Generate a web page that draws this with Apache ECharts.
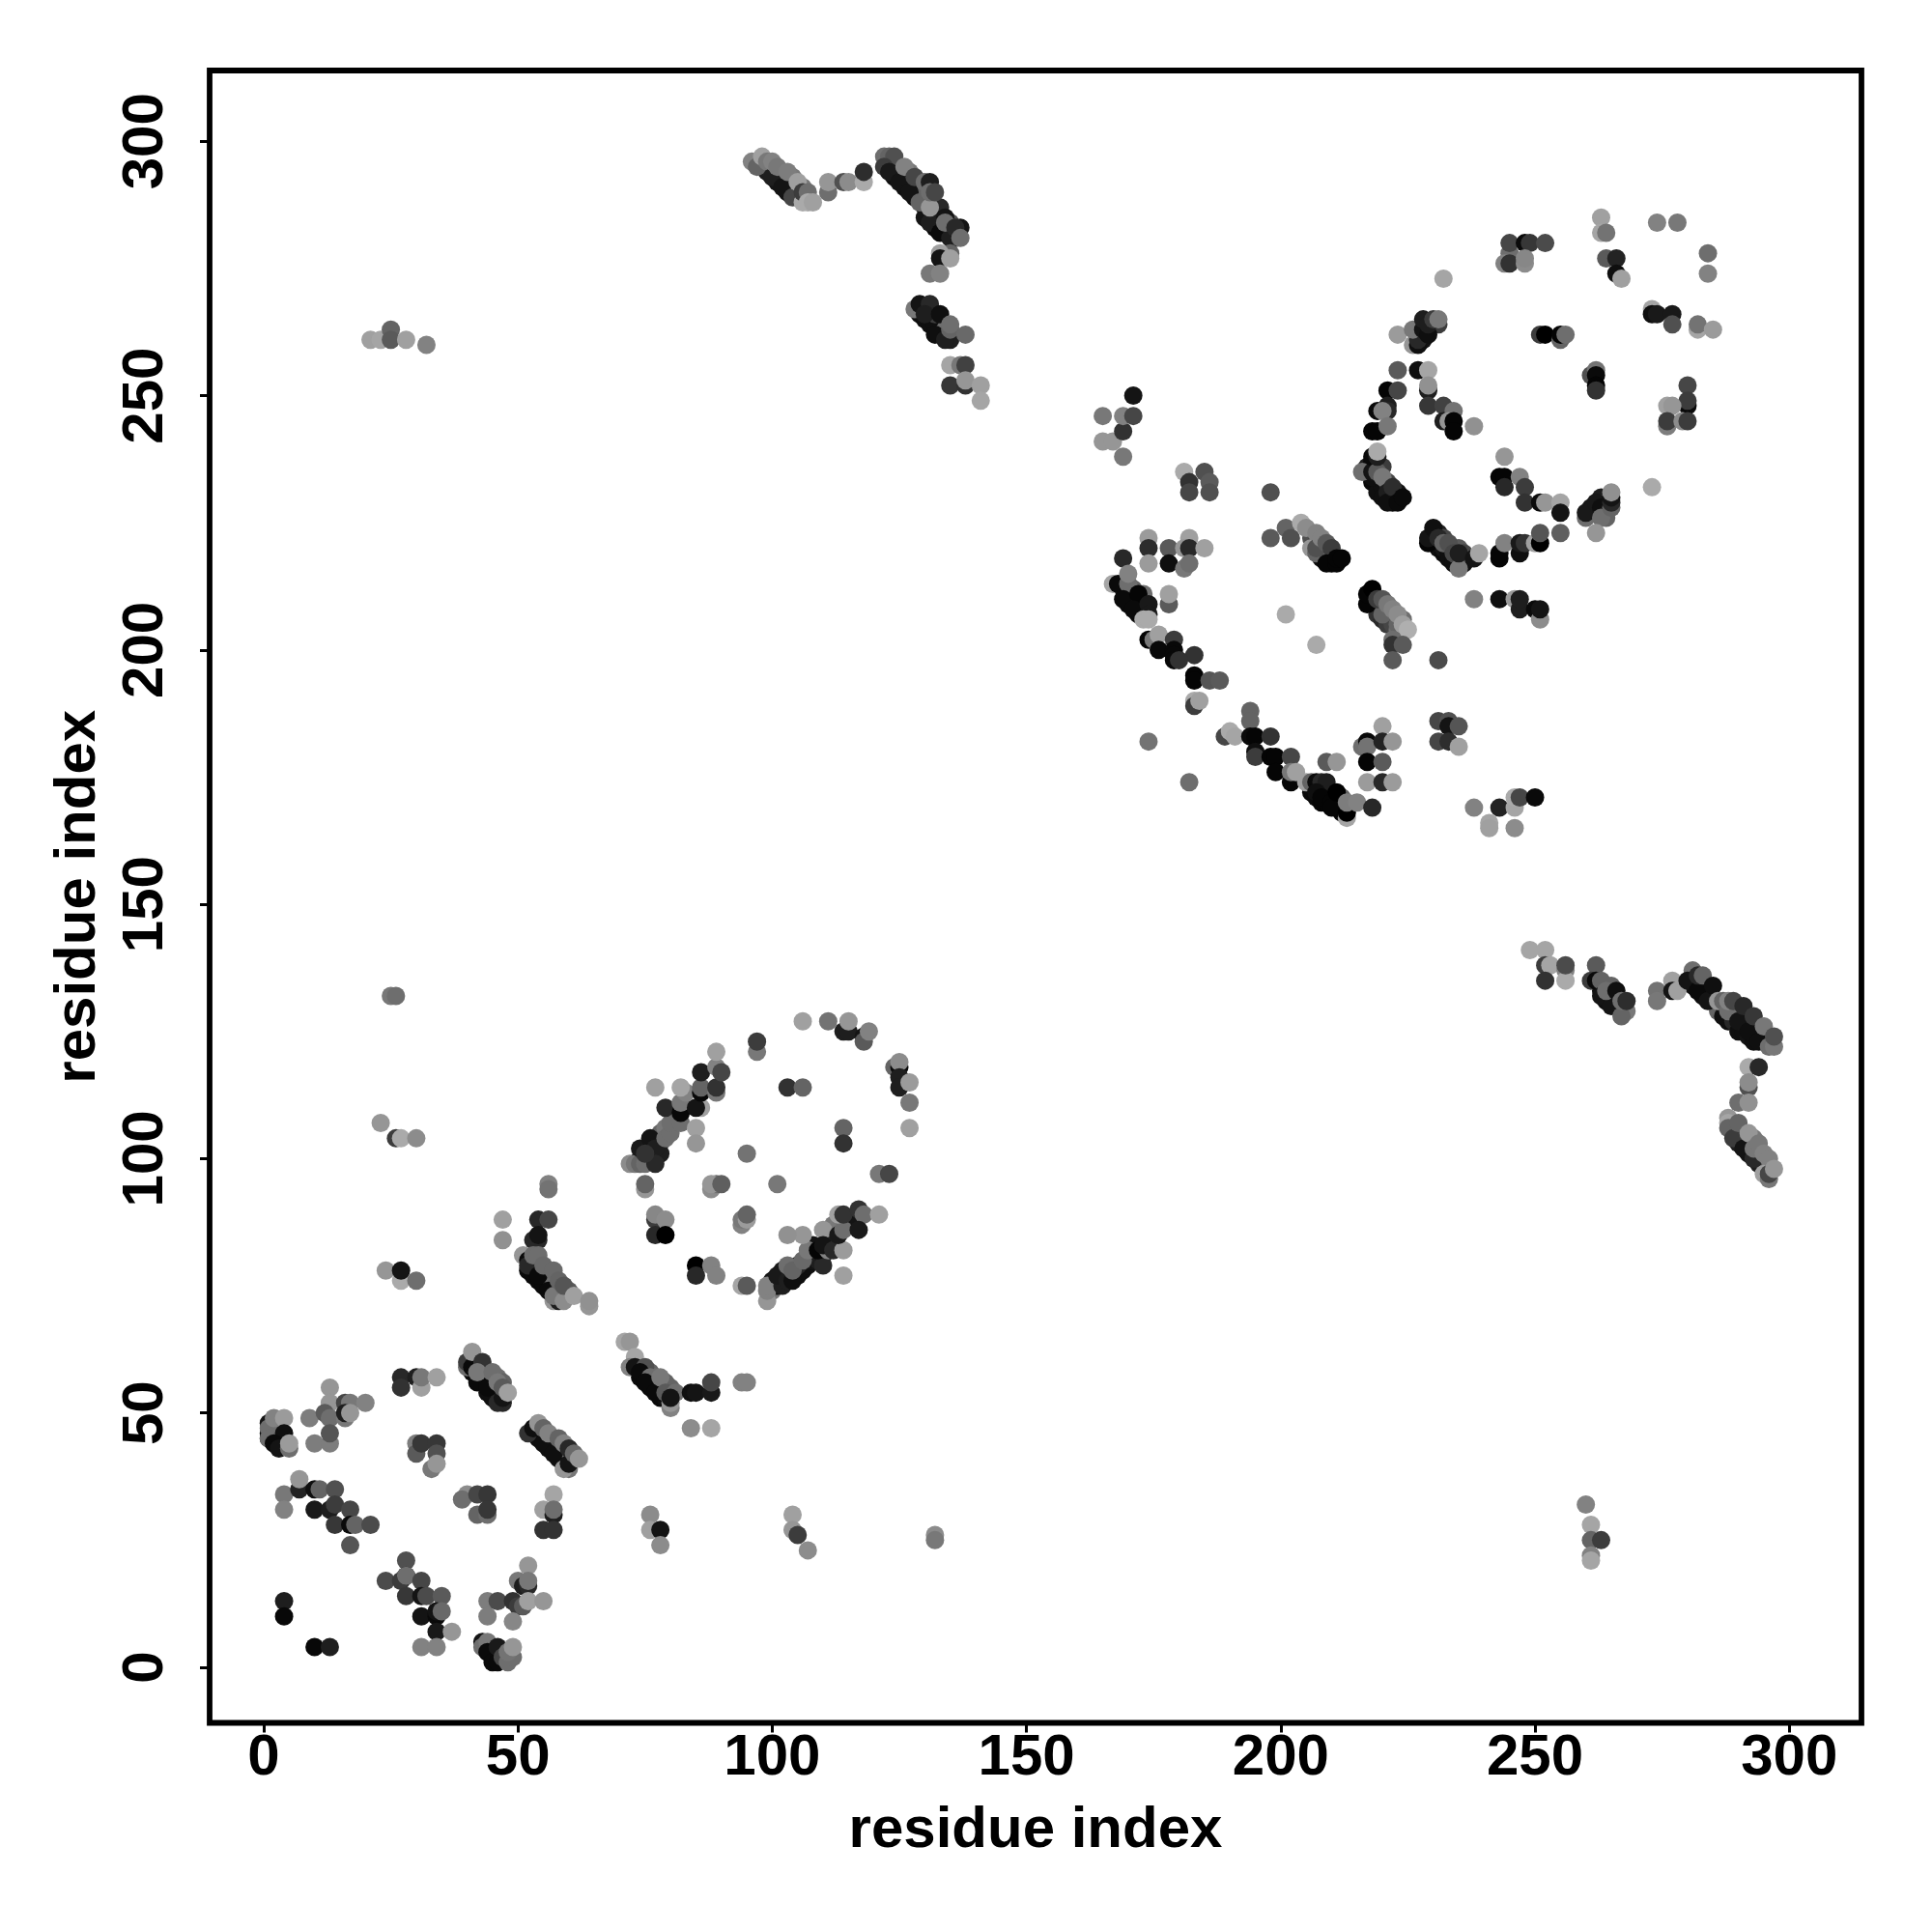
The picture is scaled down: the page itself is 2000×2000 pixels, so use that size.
<!DOCTYPE html>
<html><head><meta charset="utf-8">
<script src="https://cdn.jsdelivr.net/npm/echarts@6/dist/echarts.min.js"></script>
<style>html,body{margin:0;background:#fff}#c{width:2000px;height:2000px}</style></head>
<body><div id="c"></div>
<script>
// each entry: [residue x, residue y, grey level]
const tickValues=[0,50,100,150,200,250,300];
const blockStrands=[
[41,58,10],[42,57,10],[43,56,10],[44,54,15],[45,53,15],[46,53,15],[47,52,40],[43,59,50],[44,58,60],[44,57,110],[46,57,110],[47,56,100],
[54,45,15],[55,45,15],[56,43,15],[57,43,15],[58,41,15],[59,41,20],[60,39,120],[56,45,110],[57,45,120],[58,44,110],[59,43,110],
[52,78,10],[53,77,10],[54,76,10],[55,75,10],[56,75,10],[57,72,150],[58,72,30],[59,73,30],[53,80,40],[54,79,110],[56,78,110],[56,77,110],[58,75,100],[60,74,90],
[74,100,25],[75,102,25],[76,100,30],[76,102,20],[77,103,15],[78,103,100],[78,105,100],[78,101,30],[79,106,120],
[100,74,120],[100,76,20],[101,75,15],[102,78,25],[103,78,25],[105,77,15],[106,78,15],[107,79,15],[108,80,20],[108,83,20],[109,80,30],[110,81,20],[111,84,40],[112,85,40],[112,87,120],[115,87,25],[116,88,20],
[74,57,10],[75,57,10],[76,55,10],[77,55,10],[78,53,10],[79,53,15],[80,51,130],[76,58,100],[77,57,110],[78,56,110],[79,56,100],[80,55,100],
[99,294,30],[100,294,60],[101,292,20],[102,293,80],[103,290,20],[104,291,80],[105,289,40],[103,292,110],[104,293,120],[106,291,120],
[123,295,10],[124,293,15],[125,293,60],[126,291,15],[127,291,60],[128,289,15],[129,290,60],[130,287,20],[130,285,20],[132,286,60],[132,283,10],[133,284,15],[134,282,15],[136,281,15],[124,295,90],[127,294,120],[129,292,100],[130,290,100],[131,289,100],[133,287,40],[135,284,80],[137,283,20],
[129,266,15],[130,265,15],[131,265,60],[131,264,15],[132,264,15],[133,263,15],[133,262,25],[131,267,60],[132,266,60],[134,263,110],
[263,133,15],[264,131,15],[264,132,20],[265,132,15],[266,130,15],[267,130,15],[265,134,100],[266,131,90],
[281,134,15],[282,134,60],[283,132,15],[284,133,80],[286,129,100],[287,130,100],[287,128,15],[288,127,15],[289,127,40],[290,125,15],[291,125,15],[292,124,20],[293,123,15],[294,125,120],[295,123,60],[296,124,120],[289,130,100],[291,128,100],[293,126,100],
[289,105,60],[290,104,60],[290,103,30],[291,103,30],[292,101,20],[292,103,70],[293,104,120],[294,100,30],[294,99,30],[295,99,40],[296,98,90],
[169,212,10],[170,211,10],[170,209,10],[171,210,10],[172,209,10],[172,207,10],[173,208,15],[171,212,100],[173,211,110],[172,210,110],
[206,222,80],[207,221,60],[208,220,90],[208,218,10],[209,219,10],[210,218,10],[210,217,5],[206,220,150],[207,219,100],
[206,172,10],[207,171,10],[208,170,5],[209,172,40],[209,170,5],[210,171,70],[211,169,5],[212,168,5],[212,171,100],[213,169,110],[212,169,5],
[218,210,5],[218,209,5],[219,208,5],[219,207,50],[220,206,40],[221,207,70],[221,205,60],[222,206,90],[222,205,70],[223,204,110],[223,205,100],[224,206,110],
[218,233,10],[219,233,10],[219,231,15],[220,232,15],[220,230,15],[221,233,70],[222,231,40],[222,229,10],[223,231,20],[217,236,30],[218,237,10],[218,234,15],[220,236,60],
[230,221,5],[230,222,20],[231,220,15],[232,219,10],[232,220,20],[233,219,15],[233,218,15],[234,218,15],[234,217,15],[235,218,15],[236,218,40],[236,217,15],[237,218,20],[231,223,30],[232,222,70],[234,220,80],[235,220,90],[236,219,70],
[227,262,25],[228,261,20],[229,263,20],[230,264,30],[231,264,60],
[261,228,25],[262,227,20],[263,230,30],[264,228,20],[264,229,60],[264,227,15],[264,226,100]
];
const blockLowerLeft=[
[4,13,30],[4,10,8],[10,4,8],[13,4,30],
[28,21,80],[24,17,75],[27,17,60],[28,18,10],[28,18,110],[31,17,70],[28,14,55],[31,14,20],[32,14,75],[35,14,90],[31,10,20],[34,10,10],[34,11,20],[35,11,105],[34,7,25],[37,7,150],[31,4,130],[34,4,130],
[52,20,150],[50,17,120],[51,16,30],[52,16,40],[52,17,120],[44,13,125],[46,13,75],[49,13,50],[50,12,60],[51,12,90],[52,13,160],[55,13,150],[44,10,125],[49,9,135],
[43,5,20],[43,4,110],[44,5,120],[44,3,10],[45,1,10],[46,1,10],[46,4,25],[47,2,70],[48,1,110],[49,2,110],[48,3,115],[49,4,150],
[4,34,120],[4,31,130],[7,35,35],[7,37,150],[10,35,15],[11,35,100],[14,35,80],[10,31,25],[13,31,30],[14,32,60],[14,28,55],[17,31,70],[17,28,10],[18,28,100],[21,28,75],[17,24,85],
[1,48,20],[1,46,15],[1,45,10],[1,47,110],[2,49,130],[1,45,110],[4,49,155],[4,46,15],[2,44,10],[3,43,20],[5,43,110],[5,44,155],
[9,49,125],[13,55,150],[13,52,150],[12,50,90],[13,49,110],[16,52,70],[17,52,120],[20,52,130],[16,49,120],[16,50,30],[17,50,150],[10,44,125],[13,44,125],[13,46,85],
[27,57,40],[27,55,50],[30,57,30],[31,55,160],[31,57,120],[34,57,160],
[30,44,125],[30,42,90],[31,44,55],[34,44,55],[34,42,80],[33,39,120],[34,40,150],
[40,34,140],[39,33,110],[42,34,70],[44,34,55],[42,30,100],[44,30,110],[44,31,55],
[57,34,165],[55,31,160],[57,30,30],[57,31,110],[55,27,50],[57,27,50]
];
const blockChain40to62=[
[40,59,110],[40,60,60],[41,59,10],[41,62,150],[42,56,10],[43,60,50],[44,55,10],[46,52,40],[47,53,20],[42,58,120],[45,58,110],[46,56,120],[47,55,90],[48,54,160],
[52,46,50],[53,47,15],[55,44,15],[57,42,15],[59,39,150],[60,40,20],[54,48,150],[55,47,100],[56,46,130],[58,45,100],[59,44,130],[60,43,40],[61,42,105],[62,41,150]
];
const blockChain53to64=[
[47,88,160],[47,84,145],[56,95,130],[56,94,115],[54,88,40],[56,88,70],[54,84,40],[53,84,40],[54,85,20],
[51,81,150],[52,80,10],[52,79,40],[54,77,10],[56,74,10],[57,73,120],[59,72,140],[53,81,110],[54,81,110],[55,79,105],[57,78,105],[58,76,100],[59,75,85],[61,73,160],[64,71,150],[64,72,145]
];
const blockEllipse=[
[72,99,140],[73,99,120],[74,99,100],[75,99,110],[74,102,25],[76,104,20],[77,102,30],[77,99,40],[75,101,50],[79,104,110],[80,105,110],[80,107,110],[79,110,40],[82,107,110],[82,109,8],[82,111,120],[83,113,130],[82,114,165],[77,114,160],
[85,106,160],[85,103,150],[86,110,160],[85,110,20],[86,113,8],[86,114,100],[86,117,30],[89,113,120],[89,114,50],[89,118,130],[90,117,70],[89,121,160],
[97,121,120],[97,123,60],[106,127,160],[111,127,115],[114,125,30],[115,125,30],[115,127,150],[118,124,20],[118,123,90],[119,125,130],
[103,114,50],[106,114,100],[124,118,100],[125,118,10],[125,119,140],[125,116,30],[125,114,30],[127,115,155],[127,111,120],[127,106,160],
[114,106,100],[114,103,50],[95,101,115],[101,95,120],[75,94,150],[75,95,100],[88,94,140],[89,95,110],[88,95,150],[90,95,95],
[121,97,120],[123,97,70],
[77,88,60],[77,89,135],[79,88,140],[77,85,40],[79,85,0],
[94,87,130],[94,88,120],[95,88,155],[95,89,100],
[85,79,0],[88,79,130],[85,77,40],[89,77,130],[94,75,165],[95,75,90],
[99,72,150],[99,74,130],[99,75,130],[102,75,30],[101,77,25],[103,76,30],[104,76,15],[105,79,40],[103,79,110],[104,78,100],[106,80,105],[107,82,120],[106,85,150],[103,85,145],[110,79,40],[109,82,5],[111,82,130],[110,86,150],[110,83,20],[112,82,40],[114,82,155],
[113,85,25],[114,86,110],[113,89,160],[114,89,50],[117,90,50],[118,89,110],[117,86,25],[121,89,160],[114,77,160]
];
const blockChain71to95=[
[71,64,165],[72,64,150],[73,61,165],[72,59,130],[73,59,20],[75,59,80],[74,58,10],[76,57,110],[75,56,10],[77,54,10],[78,57,120],[79,54,90],[80,52,150],[81,54,110],[80,53,20],[84,54,15],[85,54,20],[88,54,25],[88,56,70],[94,56,130],[95,56,130],[84,47,140],[88,47,165]
];
const blockMiddle=[
[76,30,140],[76,27,160],[78,27,20],[78,24,140],[104,30,160],[104,27,150],[105,26,60],[107,23,140],[132,26,140],[132,25,120],
[260,32,130],[261,28,165],[261,25,100],[263,25,60],[261,22,130],[261,21,165],
[21,261,160],[23,261,165],[25,263,100],[25,261,90],[28,261,160],[32,260,130],
[25,132,120],[26,132,110],[23,107,150],[26,104,60],[27,104,170],[30,104,140],[24,78,150],[27,76,170],[27,78,20],[30,76,110]
];
const blockTopChains=[
[96,296,130],[97,295,100],[98,297,160],[99,296,120],[100,293,30],[100,296,130],[101,295,120],[102,291,20],[103,294,125],[104,289,70],[105,292,160],[106,288,170],[106,290,60],[107,290,110],[107,288,170],[108,288,160],[111,290,110],[111,292,150],[114,292,80],[115,292,140],[118,292,170],[118,294,45],
[122,297,110],[123,297,100],[124,297,80],[122,295,60],[123,294,25],[125,292,20],[127,290,20],[129,288,100],[131,284,30],[131,287,150],[133,282,10],[135,281,30],
[126,295,130],[128,293,70],[130,292,110],[131,292,30],[131,290,110],[132,290,70],[134,285,20],[134,284,110],[136,283,40],[137,281,110],
[135,278,100],[133,278,160],[133,277,20],[135,277,160],[131,274,120],[133,274,130],
[128,267,120],[129,268,20],[131,268,40],[130,266,30],[133,266,15],[132,262,15],[135,261,30],[134,261,30],[135,263,100],[135,264,110],[138,262,105],
[135,256,165],[137,256,120],[138,256,65],[135,252,55],[138,252,50],[138,253,150],[141,252,160],[141,249,165]
];
const blockRightChains=[
[249,141,165],[252,141,165],[252,138,60],[253,138,165],[256,137,130],[256,135,170],[256,138,75],[252,135,50],
[262,138,90],[261,135,60],[262,135,10],[263,135,100],[263,132,20],[265,130,20],[264,133,110],[266,133,15],[268,129,120],[267,128,100],[267,131,110],[268,131,45],
[274,133,115],[274,131,120],[277,135,160],[277,133,20],[278,133,160],[281,137,110],[280,135,20],[282,133,10],[282,136,40],[283,136,100],[284,131,20],[285,134,15],[286,131,150],[287,131,100],[288,129,110],[288,131,130],[289,131,70],[290,127,20],[291,130,40],[292,125,15],[293,128,55],[294,123,15],[295,126,120],[296,122,110],[297,122,120],[297,124,80],
[292,118,170],[294,118,40],[292,114,80],[292,115,140],[290,111,110],[292,111,145],
[288,108,150],[288,107,165],[288,106,100],[289,104,60],[290,107,100],[291,102,20],[292,105,150],[293,100,40],[293,102,120],[294,103,120],[295,101,130],[296,100,130],[295,97,160],[296,96,120],[296,97,70],[297,98,150]
];
const blockUpperDomain1=[
[165,246,120],[165,241,150],[167,241,150],[169,238,120],[169,243,50],[169,246,130],[171,246,70],[171,250,20],
[181,235,170],[185,235,80],[182,233,50],[186,233,90],[182,231,70],[186,231,80],[198,231,80],
[201,224,100],[198,222,90],[202,222,80],[204,225,170],[205,224,140],[207,223,130],[207,220,80],[208,222,130],[209,221,90],[210,220,60],[209,217,5],[211,217,5],[211,218,5],[212,218,5],
[174,222,155],[174,220,45],[174,217,155],[178,220,90],[178,217,15],[182,222,160],[181,220,150],[182,220,40],[185,220,160],[181,216,120],[182,217,110],[169,218,40],
[167,213,165],[168,213,10],[170,213,110],[170,215,130],[169,210,10],[172,211,5],[171,208,10],[174,209,25],[174,207,25],[173,206,170],[174,206,170],[178,209,90],[178,211,160],
[174,202,5],[175,202,120],[176,203,160],[179,202,60],[176,200,8],[179,200,8],[179,199,8],[183,199,50],[179,198,8],[180,198,50],[183,195,5],[183,194,5],[186,194,85],[188,194,90],
[183,190,170],[183,189,60],[184,190,160],
[174,182,115],[182,174,110],
[189,183,70],[190,184,170],[191,183,165],
[194,188,100],[194,186,100],[194,183,10],[195,183,5],[198,183,50],[195,180,15],[195,179,60],[198,179,5],[199,179,5],[202,179,70],[199,176,5],[202,174,5],[202,176,120],[203,176,160],
[209,178,90],[211,178,150],
[205,174,160],[206,174,100],[207,174,10],[208,174,40],[209,174,30],[207,172,15],[208,171,5],[210,170,5],[210,169,5],[211,172,0],[213,167,165],[213,168,0],[213,170,125],[215,170,130],[218,169,40],
[216,181,110],[217,182,10],[217,181,115],[220,185,160],[220,182,35],[222,182,150],[217,178,5],[220,178,90],[217,174,155],[220,174,40],[222,174,155],
[231,186,70],[233,186,80],[233,185,20],[235,185,85],[231,182,70],[233,182,45],[235,181,160],[231,198,75],
[238,169,130],[243,169,35],[246,169,165],[246,171,170],[247,171,70],[250,171,10],[241,166,165],[241,165,160],[246,165,140],
[201,207,170],[207,201,170],
[217,209,5],[217,211,5],[218,212,0],[220,207,100],[219,210,60],[220,210,85],[221,209,120],[222,208,130],[223,207,140],[224,205,160],[225,204,175],[222,202,110],[222,201,50],[224,201,90],[222,198,90]
];
const blockUpperDomain2=[
[216,235,110],[218,235,20],[218,238,10],[219,235,90],[219,238,30],[219,239,170],[220,234,120],[221,231,30],[221,229,15],[222,232,45],[223,229,10],[224,230,10],
[229,221,5],[229,222,20],[230,224,15],[231,222,40],[232,221,100],[233,221,80],[234,219,70],[235,216,120],[235,219,30],[238,218,20],[239,219,165],
[243,218,5],[243,219,5],[244,221,130],[247,219,15],[247,221,25],[248,221,50],[250,221,160],[251,221,0],[251,223,85],[255,223,95],
[238,210,130],[243,210,15],[246,210,155],[247,208,30],[247,210,30],[250,208,10],[251,206,140],[251,208,20],
[223,262,155],[226,260,150],[227,260,15],[227,261,40],[226,263,120],[228,263,20],[228,265,30],[229,262,15],[229,264,30],[230,265,60],[231,265,120],
[232,273,165],[223,255,90],[227,255,15],[229,255,165],
[221,251,5],[223,251,70],[229,251,30],[229,252,145],[219,247,10],[221,248,30],[221,247,40],[220,247,130],[218,243,5],[219,243,5],[221,244,120],
[229,248,55],[232,248,65],[234,247,115],[232,245,30],[233,245,150],[234,245,5],[234,243,5],[238,244,145],
[244,238,150],[243,234,5],[244,234,5],[244,232,40],[247,234,130],[248,232,60],[248,229,50],[251,229,10],[252,229,150],[255,229,165],[255,227,20],
[260,226,110],[260,227,25],[262,229,25],[263,228,15],[263,226,110],[262,223,150],[265,228,100],[265,229,40],[265,230,20],[265,231,145],
[245,278,110],[245,280,70],[248,280,10],[249,280,55],[252,280,75],[244,276,130],[245,276,50],[248,276,140],[248,277,135],
[263,285,160],[263,282,165],[264,282,115],[264,277,90],[266,277,35],[266,274,15],[267,273,160],
[274,284,130],[278,284,120],[284,278,110],[284,274,130],
[273,267,165],[273,266,15],[274,266,25],[277,266,25],[277,264,80],[282,263,165],[282,264,115],[285,263,155],
[251,262,60],[252,262,0],[255,261,100],[255,262,5],[256,262,110],
[261,254,80],[262,255,115],[262,254,10],[262,252,5],[262,251,50],
[280,252,70],[280,248,10],[280,249,60],[276,248,160],[277,248,150],[276,244,125],[276,245,60],[279,245,140],[280,245,60],[273,232,170]
];
const allPoints=[blockStrands,blockLowerLeft,blockChain40to62,blockChain53to64,blockEllipse,blockChain71to95,blockMiddle,blockTopChains,blockRightChains,blockUpperDomain1,blockUpperDomain2].flat();
const labelFont={fontFamily:'"Liberation Sans"',fontWeight:'bold',fontSize:60,color:'#000'};
const titleFont={fontFamily:'"Liberation Sans"',fontWeight:'bold',fontSize:60,color:'#000'};
const axisBase={type:'value',splitLine:{show:false},
  axisLine:{show:false,onZero:false},
  axisTick:{show:true,length:10,lineStyle:{color:'#000',width:3},customValues:tickValues},
  nameLocation:'middle',nameTextStyle:titleFont};
const chart=echarts.init(document.getElementById('c'),null,{renderer:'canvas'});
chart.setOption({animation:false,backgroundColor:'#fff',
 grid:{left:217,right:73,top:73,bottom:216.5,show:true,borderColor:'#000',borderWidth:5.8,backgroundColor:'#fff'},
 xAxis:{...axisBase,min:-10.64,max:314.2,name:'residue index',nameGap:82,
   axisLabel:{...labelFont,margin:7,customValues:tickValues,hideOverlap:false,showMinLabel:true,showMaxLabel:true}},
 yAxis:{...axisBase,min:-10.92,max:313.92,name:'residue index',nameGap:106,nameRotate:90,
   axisLabel:{...labelFont,margin:36,rotate:90,customValues:tickValues,hideOverlap:false,verticalAlign:'bottom',align:'center'}},
 series:[{type:'scatter',symbol:'circle',symbolSize:19,progressive:0,large:false,
   data:allPoints,
   encode:{x:0,y:1},
   itemStyle:{opacity:1,color:p=>{const g=p.data[2];return 'rgb('+g+','+g+','+g+')';}}}]
});
</script></body></html>
